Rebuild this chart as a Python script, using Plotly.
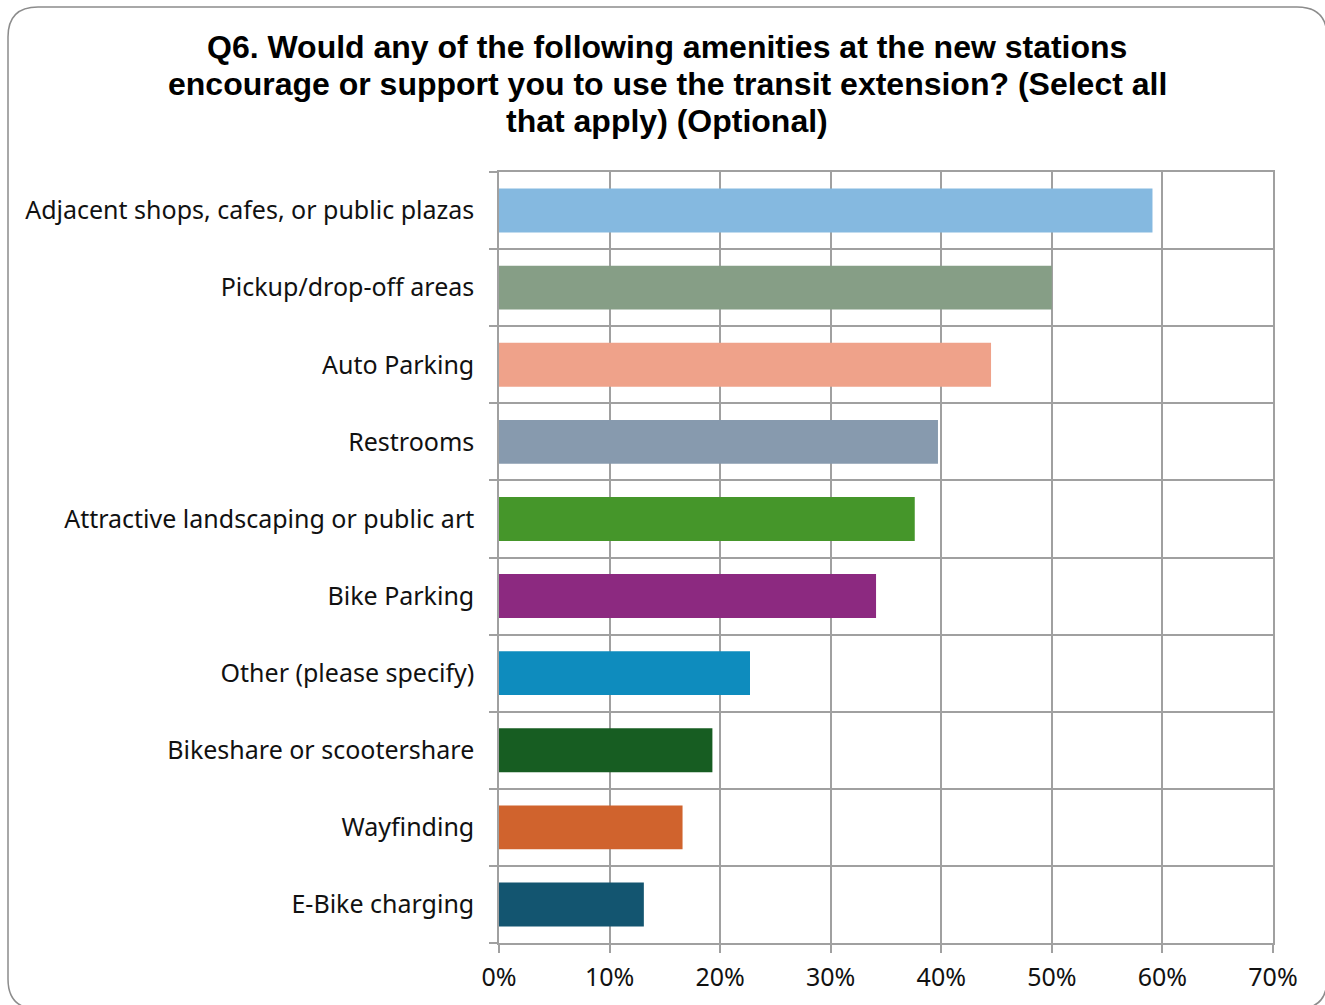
import plotly.graph_objects as go

# Survey responses, top to bottom as listed
amenities = [
    "Adjacent shops, cafes, or public plazas",
    "Pickup/drop-off areas",
    "Auto Parking",
    "Restrooms",
    "Attractive landscaping or public art",
    "Bike Parking",
    "Other (please specify)",
    "Bikeshare or scootershare",
    "Wayfinding",
    "E-Bike charging",
]
share = [0.591, 0.500, 0.445, 0.397, 0.376, 0.341, 0.227, 0.193, 0.166, 0.131]
bar_colors = [
    "#85B9E0", "#869E86", "#EFA28A", "#879AAE", "#45962A",
    "#8C2980", "#0E8CBE", "#175D22", "#D0632D", "#135570",
]
x_ticks = [0, 0.1, 0.2, 0.3, 0.4, 0.5, 0.6, 0.7]
title_lines = [
    "Q6. Would any of the following amenities at the new stations",
    "encourage or support you to use the transit extension? (Select all",
    "that apply) (Optional)",
]

W, H = 1325, 1005
L, R, T, B = 499, 52, 172, 62
pw, ph = W - L - R, H - T - B

positions = list(range(len(amenities)))

fig = go.Figure(
    go.Bar(
        x=share,
        y=positions,
        orientation="h",
        marker=dict(color=bar_colors, line=dict(width=0)),
        width=0.57,
        hoverinfo="x+text",
        text=amenities,
        textposition="none",
    )
)

GRID = "#A0A0A0"
label_font = dict(family="Noto Sans, Open Sans, sans-serif", size=25, color="#111111")

fig.update_xaxes(
    range=[0, 0.7],
    tickvals=x_ticks,
    tickformat=".0%",
    showgrid=True,
    gridcolor=GRID,
    gridwidth=1.5,
    ticks="outside",
    ticklen=8,
    tickwidth=1.5,
    tickcolor=GRID,
    showline=True,
    linecolor=GRID,
    linewidth=1.5,
    mirror=True,
    zeroline=False,
    ticklabelstandoff=3,
    tickfont=label_font,
)
fig.update_yaxes(
    range=[len(amenities) - 0.5, -0.5],
    tickvals=positions,
    ticktext=amenities,
    ticks="",
    showgrid=False,
    showline=True,
    linecolor=GRID,
    linewidth=1.5,
    mirror=True,
    zeroline=False,
    ticklabelstandoff=18,
    tickfont=label_font,
    minor=dict(
        tick0=0.5,
        dtick=1,
        showgrid=True,
        gridcolor=GRID,
        gridwidth=1.5,
        ticks="outside",
        ticklen=8,
        tickwidth=1.5,
        tickcolor=GRID,
    ),
)


# Rounded outer frame, specified in pixels and converted to paper units
def px(xp):
    return (xp - L) / pw


def py(yp):
    return (H - B - yp) / ph


x0, x1, y0, y1, rad = 8, 1327, 7, 1009, 30
frame = (
    f"M {px(x0 + rad)},{py(y0)} L {px(x1 - rad)},{py(y0)} "
    f"Q {px(x1)},{py(y0)} {px(x1)},{py(y0 + rad)} "
    f"L {px(x1)},{py(y1 - rad)} Q {px(x1)},{py(y1)} {px(x1 - rad)},{py(y1)} "
    f"L {px(x0 + rad)},{py(y1)} Q {px(x0)},{py(y1)} {px(x0)},{py(y1 - rad)} "
    f"L {px(x0)},{py(y0 + rad)} Q {px(x0)},{py(y0)} {px(x0 + rad)},{py(y0)} Z"
)
fig.add_shape(
    type="path",
    xref="paper",
    yref="paper",
    path=frame,
    line=dict(color="#8C8C8C", width=1.5),
    layer="below",
)

# Three-line bold heading, one annotation per line for tight spacing
title_font = dict(family="Liberation Sans Narrow, Liberation Sans, Arial, sans-serif",
                  size=32, color="#000000", weight="bold")
for i, line in enumerate(title_lines):
    fig.add_annotation(
        text=line,
        xref="paper",
        yref="paper",
        x=px(667),
        y=py(47 + 37 * i),
        xanchor="center",
        yanchor="middle",
        showarrow=False,
        font=title_font,
    )

fig.update_layout(
    width=W,
    height=H,
    margin=dict(l=L, r=R, t=T, b=B),
    paper_bgcolor="white",
    plot_bgcolor="white",
    showlegend=False,
    bargap=0.43,
)

fig.write_html("out.html")
